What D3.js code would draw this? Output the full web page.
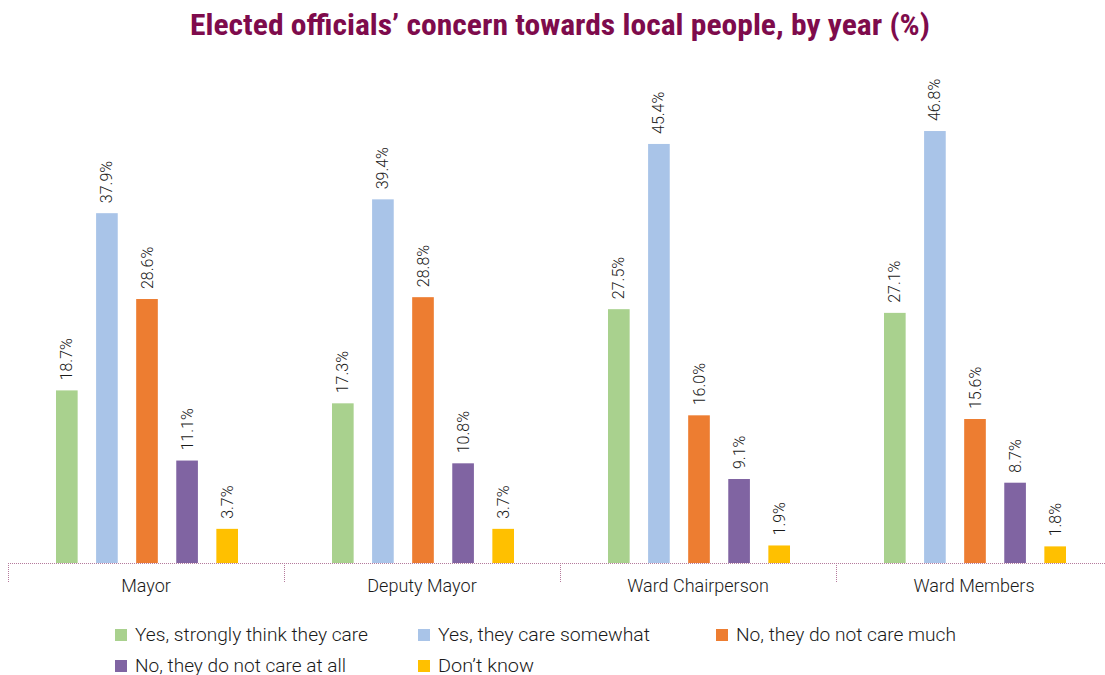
<!DOCTYPE html>
<html>
<head>
<meta charset="utf-8">
<script src="https://cdn.jsdelivr.net/npm/d3@7"></script>
<style>
  html, body { margin: 0; padding: 0; background: #fff; }
  svg { display: block; }
</style>
</head>
<body>
<svg id="chart" width="1105" height="675"></svg>
<script>
// Respondent groups along the x axis
const categories = ["Mayor", "Deputy Mayor", "Ward Chairperson", "Ward Members"];

// Response options (series) and their share per group, in percent
const seriesNames = [
  "Yes, strongly think they care",
  "Yes, they care somewhat",
  "No, they do not care much",
  "No, they do not care at all",
  "Don\u2019t know"
];
const stronglyCare   = [18.7, 17.3, 27.5, 27.1];
const careSomewhat   = [37.9, 39.4, 45.4, 46.8];
const notCareMuch    = [28.6, 28.8, 16.0, 15.6];
const notCareAtAll   = [11.1, 10.8, 9.1, 8.7];
const dontKnow       = [3.7, 3.7, 1.9, 1.8];
const seriesValues = [stronglyCare, careSomewhat, notCareMuch, notCareAtAll, dontKnow];

const colors = ["#a9d18e", "#a9c4e8", "#ed7d31", "#8064a2", "#ffc000"];

const svg = d3.select("#chart");
const baseY = 563;
const labelFont = "Roboto, 'Liberation Sans', Arial, sans-serif";

// Title
svg.append("text")
  .attr("x", 560).attr("y", 35)
  .attr("text-anchor", "middle")
  .attr("font-family", "'Roboto Condensed', 'DejaVu Sans Condensed', sans-serif")
  .attr("font-weight", "bold")
  .attr("font-size", 29)
  .attr("textLength", 740)
  .attr("lengthAdjust", "spacingAndGlyphs")
  .attr("fill", "#7e0b4c")
  .text("Elected officials\u2019 concern towards local people, by year (%)");

// Scales
const x0 = d3.scaleBand().domain(categories).range([8, 1112]).padding(0);
const x1 = d3.scaleBand().domain(d3.range(seriesNames.length)).range([48, 230]).paddingInner(0.46).paddingOuter(0);
const y = d3.scaleLinear().domain([0, 50]).range([baseY, baseY - 9.23 * 50]);

// Bars and value labels
const groups = svg.selectAll("g.group")
  .data(categories)
  .join("g")
  .attr("class", "group")
  .attr("transform", d => `translate(${x0(d)},0)`);

groups.each(function(cat, ci) {
  const g = d3.select(this);
  const rows = seriesValues.map((vals, si) => ({ si, v: vals[ci] }));
  g.selectAll("rect")
    .data(rows)
    .join("rect")
    .attr("x", d => x1(d.si))
    .attr("y", d => y(d.v))
    .attr("width", x1.bandwidth())
    .attr("height", d => baseY - y(d.v))
    .attr("fill", d => colors[d.si]);
  g.selectAll("text.val")
    .data(rows)
    .join("text")
    .attr("class", "val")
    .attr("transform", d => `translate(${x1(d.si) + x1.bandwidth() / 2 + 5.5},${y(d.v) - 10}) rotate(-90)`)
    .attr("font-family", labelFont)
    .attr("font-weight", 300)
    .attr("font-size", 16)
    .attr("fill", "#1a1a1a")
    .text(d => d.v.toFixed(1) + "%");
});

// Category axis: dotted baseline with separators between groups
const axis = svg.append("g").attr("transform", `translate(0,${baseY})`)
  .call(d3.axisBottom(x0).tickSize(0).tickPadding(16));
axis.select(".domain").remove();
axis.selectAll("text")
  .attr("font-family", labelFont)
  .attr("font-weight", 300)
  .attr("font-size", 18)
  .attr("fill", "#1a1a1a");

svg.append("line")
  .attr("x1", 8).attr("x2", 1105)
  .attr("y1", baseY + 0.5).attr("y2", baseY + 0.5)
  .attr("stroke", "#b57a9c").attr("stroke-width", 1)
  .attr("stroke-dasharray", "1,1");

const seps = categories.map(c => x0(c));
svg.selectAll("line.sep")
  .data(seps)
  .join("line")
  .attr("class", "sep")
  .attr("x1", d => d + 0.5).attr("x2", d => d + 0.5)
  .attr("y1", baseY).attr("y2", baseY + 20)
  .attr("stroke", "#b57a9c").attr("stroke-width", 1)
  .attr("stroke-dasharray", "1,1");

// Legend
const legendPos = [[115, 629], [418, 629], [716, 629], [115, 660], [418, 660]];
const legendLen = [233, 212, 220, 211, 96];
const legend = svg.selectAll("g.legend")
  .data(seriesNames)
  .join("g")
  .attr("class", "legend")
  .attr("transform", (d, i) => `translate(${legendPos[i][0]},${legendPos[i][1]})`);
legend.append("rect")
  .attr("width", 12).attr("height", 12)
  .attr("fill", (d, i) => colors[i]);
legend.append("text")
  .attr("x", 20).attr("y", 12)
  .attr("font-family", labelFont)
  .attr("font-weight", 300)
  .attr("font-size", 18)
  .attr("textLength", (d, i) => legendLen[i])
  .attr("lengthAdjust", "spacingAndGlyphs")
  .attr("fill", "#1a1a1a")
  .text(d => d);
</script>
</body>
</html>
